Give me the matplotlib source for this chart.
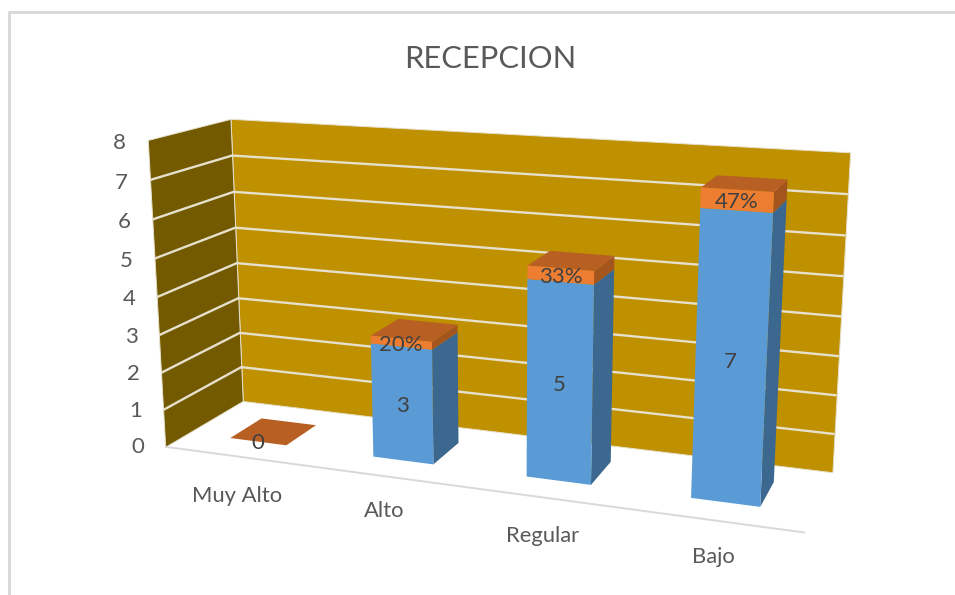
import numpy as np
import matplotlib
matplotlib.use("Agg")
import matplotlib.pyplot as plt
from matplotlib.lines import Line2D
from mpl_toolkits.mplot3d.art3d import Poly3DCollection, Line3DCollection

# ---- data -------------------------------------------------------------
title = "RECEPCION"
categories = ["Muy Alto", "Alto", "Regular", "Bajo"]
counts = [0, 3, 5, 7]
shares = [0.0, 0.20, 0.33, 0.47]
share_labels = ["", "20%", "33%", "47%"]
z_ticks = [0, 1, 2, 3, 4, 5, 6, 7, 8]

# ---- styles ------------------------------------------------------------
plt.rcParams["font.family"] = ["Lato", "DejaVu Sans"]
WALL_BACK = "#BF9000"
WALL_SIDE = "#735A00"
GRID = "#E6E0CC"
FLOOR_LINE = "#D9D9D9"
BLUE = ("#5B9BD5", "#3C678E")
ORANGE = ("#ED7D31", "#A4551E", "#B85F23")
NONE = (0, 0, 0, 0)
TICK_TXT = "#595959"
DATA_TXT = "#404040"
BAR_X0, BAR_DX = 0.30, 0.40
BAR_Y0, BAR_DY = 0.29, 0.42
LABEL_DROP = [1.08, 0.93, 0.98, 0.90]
W_PX, H_PX = 955, 595

# ---- camera calibrated from the picture: (x, y, z) -> (pixel x, pixel y)
calib = [
    ((0, 0, 8), (147.3, 140.0)), ((0, 1, 8), (230.7, 119.3)),
    ((0, 0, 0), (165.0, 446.7)), ((0, 1, 0), (242.7, 401.0)),
    ((4, 1, 8), (850.3, 151.7)), ((4, 1, 0), (832.7, 471.7)),
    ((4, 0, 0), (805.0, 533.3)), ((0, 0, 7), (150.0, 180.0)),
    ((0, 1, 7), (232.3, 155.0)),
    ((3.3, BAR_Y0, 0), (691.7, 497.3)), ((3.7, BAR_Y0, 0), (760.0, 506.0)),
    ((3.7, BAR_Y0 + BAR_DY, 0), (773.3, 483.3)),
    ((3.3, BAR_Y0, 7.47), (701.7, 187.3)), ((3.7, BAR_Y0, 7.47), (773.3, 192.3)),
    ((3.7, BAR_Y0 + BAR_DY, 7.47), (787.3, 180.0)),
    ((0.3, BAR_Y0, 0), (231.0, 437.7)), ((0.7, BAR_Y0, 0), (286.7, 445.0)),
    ((0.7, BAR_Y0 + BAR_DY, 0), (315.0, 426.0)),
]
rows = []
for (X, Y, Z), (u, v) in calib:
    rows.append([X, Y, Z, 1, 0, 0, 0, 0, -u * X, -u * Y, -u * Z, -u])
    rows.append([0, 0, 0, 0, X, Y, Z, 1, -v * X, -v * Y, -v * Z, -v])
P = np.linalg.svd(np.array(rows, float))[2][-1].reshape(3, 4)
P = P / P[2, 3]
M = np.array([P[0], P[1], [0, 1, 0, 0], P[2]])

fig = plt.figure(figsize=(W_PX / 100, H_PX / 100), dpi=100, facecolor="white")
ax = fig.add_axes([0, -180 / H_PX, 1, W_PX / H_PX], projection="3d", computed_zorder=False)
ax.set_axis_off()
ax.patch.set_visible(False)
ax.get_proj = lambda: M
ax.viewLim.intervalx = (0, W_PX)
ax.viewLim.intervaly = (H_PX + 180, -180)
ax.set_xlim(0, 4); ax.set_ylim(0, 1); ax.set_zlim(0, 8)
ax.set_xticks([]); ax.set_yticks([]); ax.set_zticks([])


def label3d(x, y, z, s, **kw):
    """Place a text at the picture position of the chart point (x, y, z)."""
    u, v, w = P @ np.array([x, y, z, 1.0])
    fig.text(u / w / W_PX, 1 - v / w / H_PX, s, ha="center", va="center", **kw)


# walls
zmax = max(z_ticks)
ncat = len(categories)
back = [[(0, 1, 0), (ncat, 1, 0), (ncat, 1, zmax), (0, 1, zmax)]]
side = [[(0, 0, 0), (0, 1, 0), (0, 1, zmax), (0, 0, zmax)]]
ax.add_collection3d(Poly3DCollection(back, facecolors=WALL_BACK, edgecolors=GRID, linewidths=0.7, zorder=1))
ax.add_collection3d(Poly3DCollection(side, facecolors=WALL_SIDE, edgecolors=GRID, linewidths=0.7, zorder=1))

# gridlines
grid_segments = [[(0, 0, z), (0, 1, z), (ncat, 1, z)] for z in z_ticks if z not in (0, zmax)]
ax.add_collection3d(Line3DCollection(grid_segments, colors=GRID, linewidths=1.7, zorder=2))
ax.add_collection3d(Line3DCollection([[(0, 0, 0), (ncat, 0, 0)]], colors=FLOOR_LINE, linewidths=1.4, zorder=2))

# bars
for i in range(ncat):
    x = i + BAR_X0
    blue_faces = [NONE, NONE, BLUE[0], NONE, NONE, BLUE[1]]
    orange_faces = [NONE, ORANGE[2], ORANGE[0], NONE, NONE, ORANGE[1]]
    ax.bar3d(x, BAR_Y0, 0, BAR_DX, BAR_DY, counts[i], color=blue_faces, shade=False, zorder=3, linewidth=0)
    ax.bar3d(x, BAR_Y0, counts[i], BAR_DX, BAR_DY, shares[i], color=orange_faces, shade=False, zorder=4, linewidth=0)

# texts
for z in z_ticks:
    label3d(-0.20, 0, z - 0.12, str(z), fontsize=16, color=TICK_TXT)
for i, name in enumerate(categories):
    label3d(i + 0.5, 0, -LABEL_DROP[i], name, fontsize=15.8, color=TICK_TXT)
    label3d(i + 0.5, BAR_Y0, counts[i] / 2 - 0.05, str(counts[i]), fontsize=16, color=DATA_TXT)
    if share_labels[i]:
        label3d(i + 0.5, BAR_Y0, counts[i] + shares[i] / 2 - 0.05, share_labels[i], fontsize=16, color=DATA_TXT)

fig.text(490 / W_PX, 1 - 59 / H_PX, title, ha="center", va="center", fontsize=22.2, color=TICK_TXT)

# chart frame (left and top only are in the picture)
fig.add_artist(Line2D([9 / W_PX, 9 / W_PX, 1], [0, 1 - 12 / H_PX, 1 - 12 / H_PX],
                      transform=fig.transFigure, color=FLOOR_LINE, lw=2.1))

fig.savefig("out.png", dpi=100)
